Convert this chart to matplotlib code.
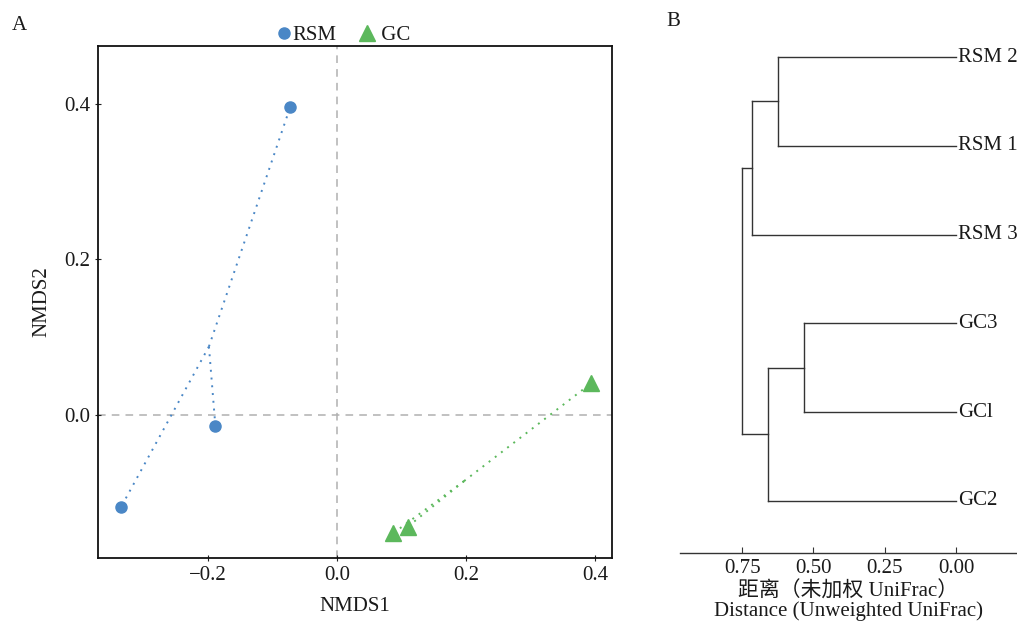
import matplotlib
matplotlib.use("Agg")
import matplotlib.pyplot as plt
import numpy as np

plt.rcParams['font.family'] = ['Liberation Serif', 'Noto Sans CJK SC', 'DejaVu Sans']
plt.rcParams['font.size'] = 15
plt.rcParams['axes.unicode_minus'] = True

# NMDS ordination scores
rsm_x = [-0.073, -0.189, -0.335]
rsm_y = [0.396, -0.014, -0.118]
gc_x = [0.087, 0.109, 0.394]
gc_y = [-0.152, -0.144, 0.041]

# Hierarchical clustering (unweighted UniFrac)
leaf_labels = ["RSM 2", "RSM 1", "RSM 3", "GC3", "GCl", "GC2"]
# (child a, child b, merge distance); new clusters are numbered from len(leaf_labels)
merges = [(0, 1, 0.625), (3, 4, 0.533), (6, 2, 0.716), (7, 5, 0.660), (8, 9, 0.751)]

x_ticks = [-0.2, 0.0, 0.2, 0.4]
y_ticks = [0.0, 0.2, 0.4]
d_ticks = [0.75, 0.50, 0.25, 0.00]

blue = '#4a87c6'
green = '#5cb85c'
ink = '#1a1a1a'

W, H = 1017, 622
fig = plt.figure(figsize=(W / 100, H / 100), dpi=100)

# ---- Panel A: NMDS ----
axA = fig.add_axes([98 / W, 1 - 558 / H, 514 / W, 512 / H])
axA.set_xlim(-0.371, 0.426)
axA.set_ylim(-0.184, 0.4746)
axA.axhline(0, color='#b0b0b0', ls=(0, (5, 4)), lw=1.1, zorder=0)
axA.axvline(0, color='#b0b0b0', ls=(0, (5, 4)), lw=1.1, zorder=0)

for xs, ys, col in [(rsm_x, rsm_y, blue), (gc_x, gc_y, green)]:
    cx, cy = np.mean(xs), np.mean(ys)
    for x, y in zip(xs, ys):
        axA.plot([cx, x], [cy, y], color=col, ls=(0, (1, 3)), lw=1.4, zorder=1)

axA.plot(rsm_x, rsm_y, 'o', color=blue, ms=8, ls='none', label='RSM', zorder=3)
axA.plot(gc_x, gc_y, '^', color=green, ms=11, ls='none', label=' GC', zorder=3)

axA.set_xticks(x_ticks)
axA.set_yticks(y_ticks)
axA.set_xticklabels([f"{v:.1f}".replace('-', '\u2212') for v in x_ticks])
axA.set_yticklabels([f"{v:.1f}" for v in y_ticks])
axA.tick_params(direction='inout', length=4, width=0.8, colors='#222222', labelcolor=ink)
for s in axA.spines.values():
    s.set_linewidth(1.3)
    s.set_color('#111111')
axA.set_xlabel('NMDS1', labelpad=9, color=ink)
axA.set_ylabel('NMDS2', labelpad=9, color=ink)
axA.legend(loc='lower center', bbox_to_anchor=(0.472, 0.985), ncol=2, frameon=False,
           handletextpad=-0.2, columnspacing=0.9, borderaxespad=0.0, handlelength=1.2,
           labelcolor=ink)

fig.text(12 / W, 1 - 25 / H, 'A', va='center', ha='left', color=ink)
fig.text(666 / W, 1 - 22 / H, 'B', va='center', ha='left', color=ink)

# ---- Panel B: dendrogram ----
axB = fig.add_axes([680 / W, 1 - 553 / H, 337 / W, 533 / H])
axB.set_xlim(0.968, -0.214)
axB.set_ylim(60.86, 0.833)

n = len(leaf_labels)
pos = {i: 5 + 10 * i for i in range(n)}
hgt = {i: 0.0 for i in range(n)}
for k, (a, b, d) in enumerate(merges):
    node = n + k
    for c in (a, b):
        axB.plot([hgt[c], d], [pos[c], pos[c]], color='#333333', lw=1.0)
    axB.plot([d, d], [pos[a], pos[b]], color='#333333', lw=1.0)
    pos[node] = (pos[a] + pos[b]) / 2
    hgt[node] = d

for i, lab in enumerate(leaf_labels):
    axB.text(-0.006, pos[i], lab, va='center', ha='left', color=ink)

for side in ['left', 'right', 'top']:
    axB.spines[side].set_visible(False)
axB.spines['bottom'].set_linewidth(1.0)
axB.spines['bottom'].set_color('#333333')
axB.set_yticks([])
axB.set_xticks(d_ticks)
axB.set_xticklabels([f"{v:.2f}" for v in d_ticks])
axB.tick_params(axis='x', direction='in', length=4, width=0.8, pad=4,
                colors='#333333', labelcolor=ink)
axB.set_xlabel('距离（未加权 UniFrac）\nDistance (Unweighted UniFrac)',
               labelpad=3, linespacing=0.95, color=ink)

fig.savefig('out.png', dpi=100)
